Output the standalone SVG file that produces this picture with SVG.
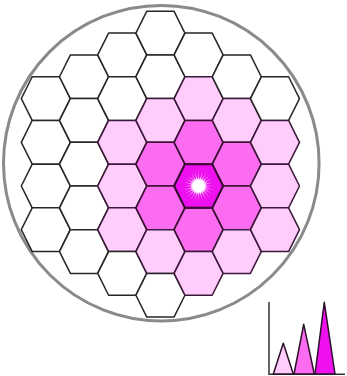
<svg xmlns="http://www.w3.org/2000/svg" xmlns:xlink="http://www.w3.org/1999/xlink" width="347" height="376" viewBox="0 0 347 376">
<style>
.w{fill:#ffffff;stroke:#262626;stroke-width:1.5;stroke-linejoin:round}
.l{fill:#ffccfc;stroke:#3a1838;stroke-width:1.5;stroke-linejoin:round}
.m{fill:#fc6cf0;stroke:#3a1030;stroke-width:1.6;stroke-linejoin:round}
.c{fill:#ee10ee;stroke:#3a0a34;stroke-width:2;stroke-linejoin:round}
.ax{fill:none;stroke:#333;stroke-width:1.5}
.tri{stroke:#2a1028;stroke-width:1.5;stroke-linejoin:round}
</style>
<defs>
<path id="hex" d="M-24.5,0 L-13.6,-21.85 L13.6,-21.85 L24.5,0 L13.6,21.85 L-13.6,21.85 Z"/>
<radialGradient id="rays" cx="50%" cy="50%" r="50%">
<stop offset="0" stop-color="#fff" stop-opacity="1"/>
<stop offset="0.45" stop-color="#fff" stop-opacity="0.95"/>
<stop offset="1" stop-color="#fff" stop-opacity="0.15"/>
</radialGradient>
<radialGradient id="core" cx="50%" cy="50%" r="50%">
<stop offset="0" stop-color="#fff" stop-opacity="1"/>
<stop offset="0.65" stop-color="#fff" stop-opacity="1"/>
<stop offset="1" stop-color="#fff" stop-opacity="0"/>
</radialGradient>
</defs>
<circle id="boundary" cx="161.3" cy="163.2" r="157.8" fill="none" stroke="#8a8a8a" stroke-width="3"/>
<g id="hexes">
<g id="h1a"><use href="#hex" class="w" transform="translate(45.8,98.6)"/></g>
<g id="h1b"><use href="#hex" class="w" transform="translate(45.8,142.3)"/></g>
<g id="h1c"><use href="#hex" class="w" transform="translate(45.8,186)"/></g>
<g id="h1d"><use href="#hex" class="w" transform="translate(45.8,229.7)"/></g>
<g id="h2a"><use href="#hex" class="w" transform="translate(84,76.75)"/></g>
<g id="h2b"><use href="#hex" class="w" transform="translate(84,120.45)"/></g>
<g id="h2c"><use href="#hex" class="w" transform="translate(84,164.15)"/></g>
<g id="h2d"><use href="#hex" class="w" transform="translate(84,207.85)"/></g>
<g id="h2e"><use href="#hex" class="w" transform="translate(84,251.55)"/></g>
<g id="h3a"><use href="#hex" class="w" transform="translate(122.2,54.9)"/></g>
<g id="h3b"><use href="#hex" class="w" transform="translate(122.2,98.6)"/></g>
<g id="h3c"><use href="#hex" class="l" transform="translate(122.2,142.3)"/></g>
<g id="h3d"><use href="#hex" class="l" transform="translate(122.2,186)"/></g>
<g id="h3e"><use href="#hex" class="l" transform="translate(122.2,229.7)"/></g>
<g id="h3f"><use href="#hex" class="w" transform="translate(122.2,273.4)"/></g>
<g id="h4a"><use href="#hex" class="w" transform="translate(160.4,33.05)"/></g>
<g id="h4b"><use href="#hex" class="w" transform="translate(160.4,76.75)"/></g>
<g id="h4c"><use href="#hex" class="l" transform="translate(160.4,120.45)"/></g>
<g id="h4d"><use href="#hex" class="m" transform="translate(160.4,164.15)"/></g>
<g id="h4e"><use href="#hex" class="m" transform="translate(160.4,207.85)"/></g>
<g id="h4f"><use href="#hex" class="l" transform="translate(160.4,251.55)"/></g>
<g id="h4g"><use href="#hex" class="w" transform="translate(160.4,295.25)"/></g>
<g id="h5a"><use href="#hex" class="w" transform="translate(198.6,54.9)"/></g>
<g id="h5b"><use href="#hex" class="l" transform="translate(198.6,98.6)"/></g>
<g id="h5c"><use href="#hex" class="m" transform="translate(198.6,142.3)"/></g>
<g id="h5e"><use href="#hex" class="m" transform="translate(198.6,229.7)"/></g>
<g id="h5f"><use href="#hex" class="l" transform="translate(198.6,273.4)"/></g>
<g id="h6a"><use href="#hex" class="w" transform="translate(236.8,76.75)"/></g>
<g id="h6b"><use href="#hex" class="l" transform="translate(236.8,120.45)"/></g>
<g id="h6c"><use href="#hex" class="m" transform="translate(236.8,164.15)"/></g>
<g id="h6d"><use href="#hex" class="m" transform="translate(236.8,207.85)"/></g>
<g id="h6e"><use href="#hex" class="l" transform="translate(236.8,251.55)"/></g>
<g id="h7a"><use href="#hex" class="w" transform="translate(275,98.6)"/></g>
<g id="h7b"><use href="#hex" class="l" transform="translate(275,142.3)"/></g>
<g id="h7c"><use href="#hex" class="l" transform="translate(275,186)"/></g>
<g id="h7d"><use href="#hex" class="l" transform="translate(275,229.7)"/></g>
<g id="center">
<use href="#hex" class="c" transform="translate(198.6,186)"/>
<g transform="translate(198.6,186)">
<polygon fill="url(#rays)" points="17,0 3.97,0.52 16.42,4.40 3.70,1.53 14.72,8.5 3.17,2.44 12.02,12.02 2.44,3.17 8.5,14.72 1.53,3.70 4.40,16.42 0.52,3.97 0,17 -0.52,3.97 -4.40,16.42 -1.53,3.70 -8.5,14.72 -2.44,3.17 -12.02,12.02 -3.17,2.44 -14.72,8.5 -3.70,1.53 -16.42,4.40 -3.97,0.52 -17,0 -3.97,-0.52 -16.42,-4.40 -3.70,-1.53 -14.72,-8.5 -3.17,-2.44 -12.02,-12.02 -2.44,-3.17 -8.5,-14.72 -1.53,-3.70 -4.40,-16.42 -0.52,-3.97 0,-17 0.52,-3.97 4.40,-16.42 1.53,-3.70 8.5,-14.72 2.44,-3.17 12.02,-12.02 3.17,-2.44 14.72,-8.5 3.70,-1.53 16.42,-4.40 3.97,-0.52"/>
<circle r="8.5" fill="url(#core)"/>
</g>
</g>
</g>
<g id="chart">
<path class="ax" d="M269,302 L269,374.3 L345,374.3"/>
<polygon class="tri" fill="#ffccfc" points="273.3,374 283.3,343.3 293.3,374"/>
<polygon class="tri" fill="#fc6cf0" points="294,374 303.7,324.3 314.3,374"/>
<polygon class="tri" fill="#ee10ee" points="315,374 324.3,302.3 335,374"/>
</g>
</svg>
